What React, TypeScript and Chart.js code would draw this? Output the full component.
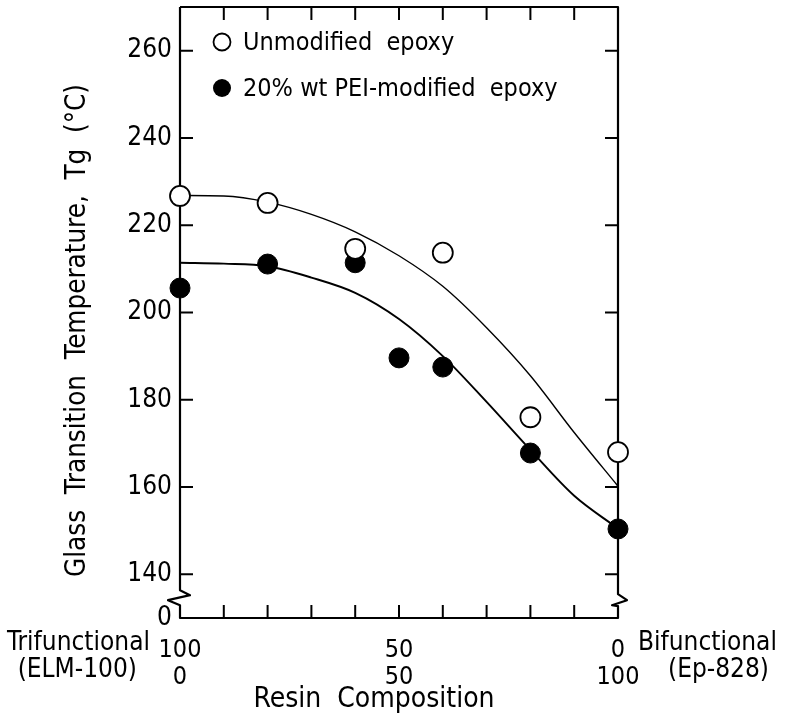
import React, { useEffect, useRef } from 'react';
import { Chart, registerables } from 'chart.js';

Chart.register(...registerables);

// ---- data ----
const unmodifiedX = [0, 20, 40, 60, 80, 100];
const unmodifiedTg = [226.7, 225.1, 214.6, 213.7, 176.0, 168.0];

const modifiedX = [0, 20, 40, 50, 60, 80, 100];
const modifiedTg = [205.6, 211.1, 211.4, 189.6, 187.5, 167.8, 150.4];

const fitX = [0, 10, 20, 30, 40, 50, 60, 70, 80, 90, 100];
const unmodifiedFit = [226.8, 226.7, 225.3, 222.5, 218.5, 213.0, 206.0, 196.5, 185.5, 172.5, 160.2];
const modifiedFit = [211.4, 211.2, 210.6, 208.0, 204.5, 198.5, 190.0, 179.5, 168.5, 158.0, 150.5];

const yTickValues = [130, 140, 160, 180, 200, 220, 240, 260];
const yInnerTicks = [140, 160, 180, 200, 220, 240, 260];
const xTickValues = [0, 10, 20, 30, 40, 50, 60, 70, 80, 90, 100];
const xInnerTicks = [10, 20, 30, 40, 50, 60, 70, 80, 90];
const labelPositions = [0, 50, 100];
const trifunctionalLabels = ['100', '50', '0'];
const bifunctionalLabels = ['0', '50', '100'];
const axisBreakValue = 135;

const legendLabels = ['Unmodified  epoxy', '20% wt PEI-modified  epoxy'];
const yTitle = 'Glass  Transition  Temperature,  Tg  (°C)';
const xTitle = 'Resin  Composition';

const FONT = "'Liberation Sans Narrow', 'DejaVu Sans Condensed', 'Roboto Condensed', sans-serif";

const framePlugin = {
  id: 'frame',
  beforeDatasetsDraw(chart: any) {
    const { ctx, chartArea } = chart;
    const { left, right, top, bottom } = chartArea;
    const y = chart.scales.y;
    const x = chart.scales.x;
    const yb = y.getPixelForValue(axisBreakValue);
    ctx.save();
    ctx.strokeStyle = '#000';
    ctx.lineWidth = 2.2;
    ctx.lineJoin = 'round';
    ctx.beginPath();
    ctx.moveTo(left, top);
    ctx.lineTo(left, yb - 6);
    ctx.lineTo(left + 10, yb - 1);
    ctx.lineTo(left - 12, yb + 4);
    ctx.lineTo(left, yb + 9);
    ctx.lineTo(left, bottom);
    ctx.lineTo(right, bottom);
    ctx.lineTo(right, yb + 10);
    ctx.lineTo(right - 6, yb + 9);
    ctx.lineTo(right + 9, yb + 4);
    ctx.lineTo(right, yb - 2);
    ctx.lineTo(right, top);
    ctx.lineTo(left, top);
    ctx.stroke();
    ctx.lineWidth = 2;
    ctx.beginPath();
    const tl = 13;
    for (const v of yInnerTicks) {
      const py = y.getPixelForValue(v);
      ctx.moveTo(left, py);
      ctx.lineTo(left + tl, py);
      ctx.moveTo(right, py);
      ctx.lineTo(right - tl, py);
    }
    for (const v of xInnerTicks) {
      const px = x.getPixelForValue(v);
      ctx.moveTo(px, top);
      ctx.lineTo(px, top + tl);
      ctx.moveTo(px, bottom);
      ctx.lineTo(px, bottom - tl);
    }
    ctx.stroke();
    ctx.restore();
  },
  afterDraw(chart: any) {
    const { ctx, chartArea } = chart;
    const { left, top, bottom } = chartArea;
    const x = chart.scales.x;
    ctx.save();
    ctx.fillStyle = '#000';
    ctx.strokeStyle = '#000';
    const lx = left + 42;
    const ly = [top + 35, top + 81];
    ctx.lineWidth = 1.8;
    ctx.beginPath();
    ctx.arc(lx, ly[0], 8.5, 0, Math.PI * 2);
    ctx.fillStyle = '#fff';
    ctx.fill();
    ctx.stroke();
    ctx.beginPath();
    ctx.arc(lx, ly[1], 9, 0, Math.PI * 2);
    ctx.fillStyle = '#000';
    ctx.fill();
    ctx.font = `25px ${FONT}`;
    ctx.textBaseline = 'middle';
    ctx.textAlign = 'left';
    ctx.fillText(legendLabels[0], left + 63, ly[0] + 1);
    ctx.fillText(legendLabels[1], left + 63, ly[1] + 1);

    ctx.font = `27.5px ${FONT}`;
    ctx.save();
    ctx.translate(left - 102, (top + bottom) / 2 + 18);
    ctx.rotate(-Math.PI / 2);
    ctx.textAlign = 'center';
    ctx.textBaseline = 'middle';
    ctx.fillText(yTitle, 0, 0);
    ctx.restore();

    ctx.font = `28px ${FONT}`;
    ctx.textAlign = 'center';
    ctx.textBaseline = 'alphabetic';
    ctx.fillText(xTitle, left + 194, bottom + 89);

    const p0 = x.getPixelForValue(0);
    const p100 = x.getPixelForValue(100);
    ctx.font = `26px ${FONT}`;
    ctx.textBaseline = 'middle';
    ctx.textAlign = 'right';
    ctx.fillText('Trifunctional', p0 - 30, bottom + 25);
    ctx.fillText('(ELM-100)', p0 - 43, bottom + 52);
    ctx.textAlign = 'left';
    ctx.fillText('Bifunctional', p100 + 20, bottom + 25);
    ctx.fillText('(Ep-828)', p100 + 50, bottom + 52);
    ctx.restore();
  },
};

export default function App() {
  const canvasRef = useRef<HTMLCanvasElement | null>(null);

  useEffect(() => {
    document.body.style.margin = '0';
    const canvas = canvasRef.current;
    if (!canvas) return;
    Chart.defaults.font.family = FONT;
    Chart.defaults.color = '#000';

    const chart = new Chart(canvas, {
      type: 'scatter',
      data: {
        datasets: [
          {
            label: 'Unmodified epoxy',
            data: unmodifiedX.map((v, i) => ({ x: v, y: unmodifiedTg[i] })),
            showLine: false,
            pointRadius: 10,
            pointBackgroundColor: '#fff',
            pointBorderColor: '#000',
            pointBorderWidth: 1.8,
            clip: false,
            order: 0,
          },
          {
            label: '20% wt PEI-modified epoxy',
            data: modifiedX.map((v, i) => ({ x: v, y: modifiedTg[i] })),
            showLine: false,
            pointRadius: 10,
            pointBackgroundColor: '#000',
            pointBorderColor: '#000',
            pointBorderWidth: 1,
            clip: false,
            order: 0,
          },
          {
            label: 'fit unmodified',
            data: fitX.map((v, i) => ({ x: v, y: unmodifiedFit[i] })),
            showLine: true,
            pointRadius: 0,
            borderColor: '#000',
            borderWidth: 1.4,
            cubicInterpolationMode: 'monotone',
            order: 1,
          },
          {
            label: 'fit modified',
            data: fitX.map((v, i) => ({ x: v, y: modifiedFit[i] })),
            showLine: true,
            pointRadius: 0,
            borderColor: '#000',
            borderWidth: 1.9,
            cubicInterpolationMode: 'monotone',
            order: 1,
          },
        ],
      },
      options: {
        responsive: false,
        animation: false,
        devicePixelRatio: 1,
        layout: { autoPadding: false, padding: { top: 7, right: 173, bottom: 0, left: 0 } },
        plugins: {
          legend: { display: false },
          tooltip: { enabled: false },
        },
        scales: {
          x: {
            type: 'linear',
            min: 0,
            max: 100,
            grid: { display: false },
            border: { display: false },
            afterBuildTicks: (s: any) => {
              s.ticks = xTickValues.map((v) => ({ value: v }));
            },
            afterFit: (s: any) => {
              s.height = 107;
              s.paddingLeft = 0;
              s.paddingRight = 0;
              s.paddingTop = 0;
              s.paddingBottom = 0;
            },
            ticks: {
              autoSkip: false,
              maxRotation: 0,
              padding: 11,
              color: '#000',
              font: { size: 25, lineHeight: 1.08 },
              callback: (v: any) => {
                const i = labelPositions.indexOf(Number(v));
                return i >= 0 ? [trifunctionalLabels[i], bifunctionalLabels[i]] : '';
              },
            },
          },
          y: {
            type: 'linear',
            min: 130,
            max: 270,
            grid: { display: false },
            border: { display: false },
            afterBuildTicks: (s: any) => {
              s.ticks = yTickValues.map((v) => ({ value: v }));
            },
            afterFit: (s: any) => {
              s.width = 180;
              s.paddingLeft = 0;
              s.paddingRight = 0;
              s.paddingTop = 0;
              s.paddingBottom = 0;
            },
            ticks: {
              autoSkip: false,
              padding: 0,
              color: '#000',
              font: { size: 26 },
              callback: (v: any) => (Number(v) === 130 ? '0' : String(v)),
            },
          },
        },
      },
      plugins: [framePlugin],
    } as any);

    return () => chart.destroy();
  }, []);

  return (
    <div style={{ width: 791, height: 725, background: '#fff' }}>
      <canvas ref={canvasRef} width={791} height={725} />
    </div>
  );
}
